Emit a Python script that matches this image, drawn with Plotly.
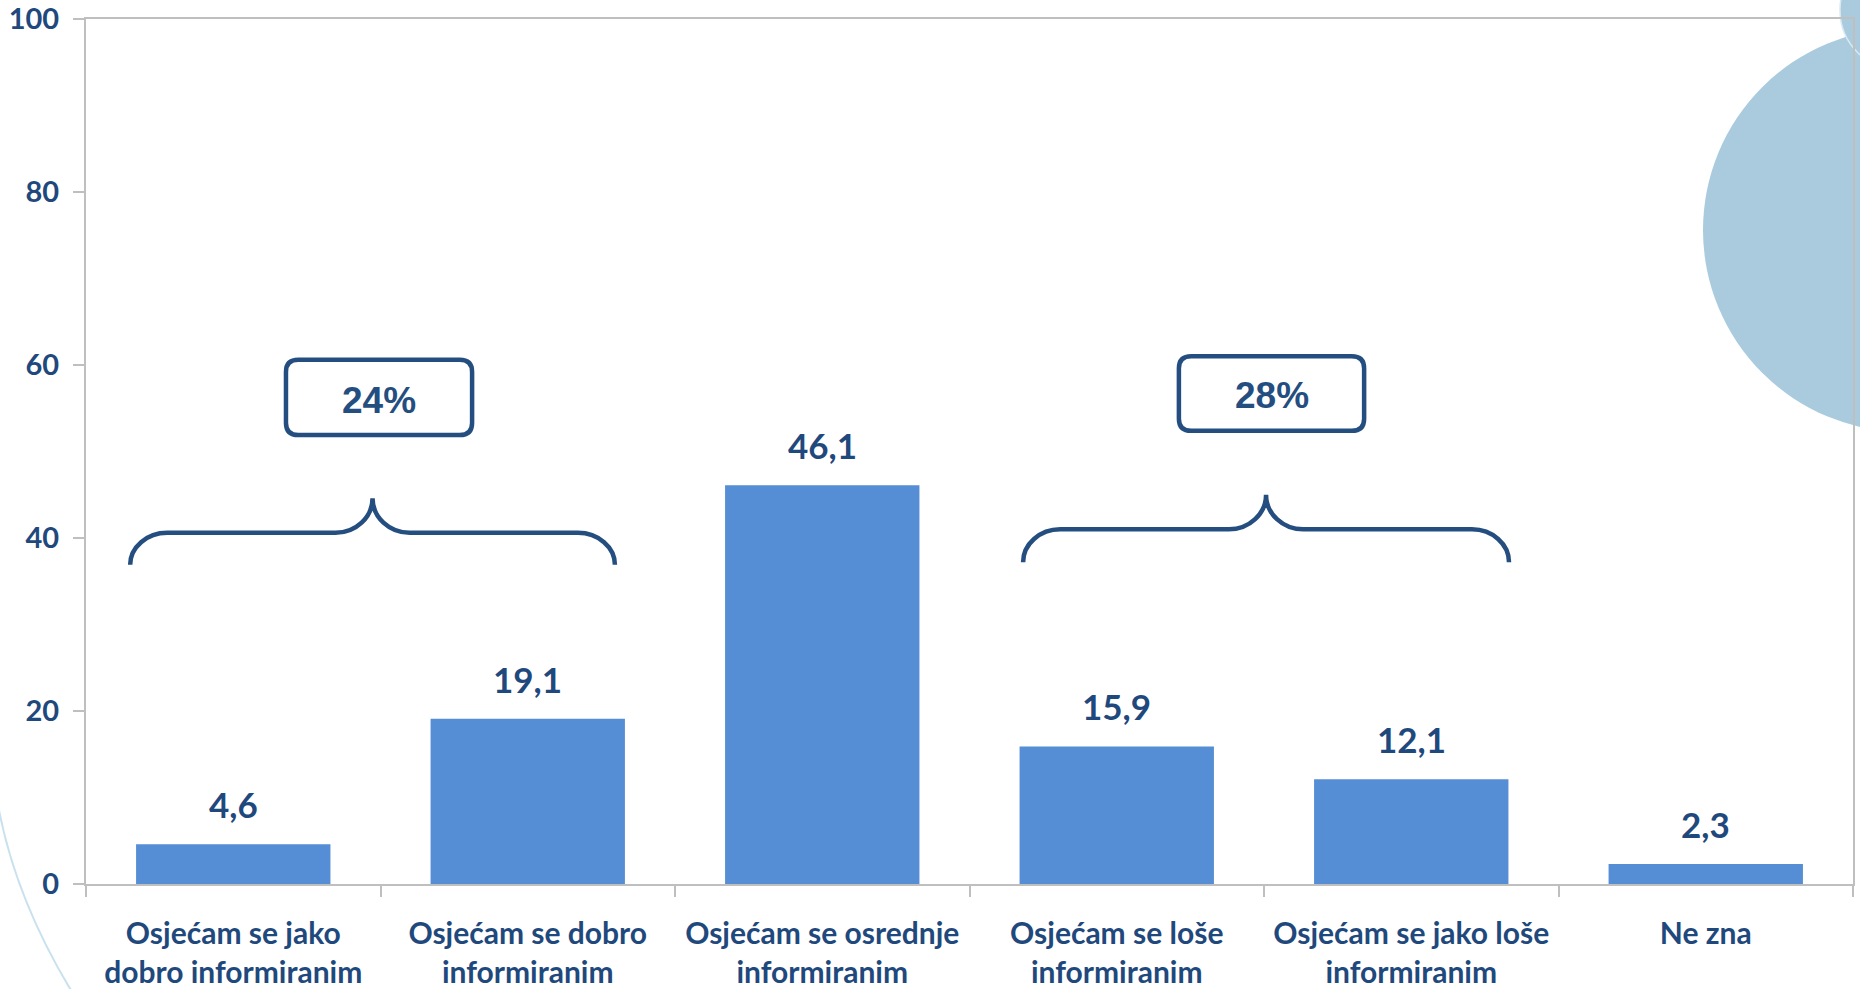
import plotly.graph_objects as go

# ---------------- data ----------------
categories = [
    "Osjećam se jako dobro informiranim",
    "Osjećam se dobro informiranim",
    "Osjećam se osrednje informiranim",
    "Osjećam se loše informiranim",
    "Osjećam se jako loše informiranim",
    "Ne zna",
]
tick_labels = [
    "Osjećam se jako<br>dobro informiranim",
    "Osjećam se dobro<br>informiranim",
    "Osjećam se osrednje<br>informiranim",
    "Osjećam se loše<br>informiranim",
    "Osjećam se jako loše<br>informiranim",
    "Ne zna",
]
values = [4.6, 19.1, 46.1, 15.9, 12.1, 2.3]
y_ticks = [0, 20, 40, 60, 80, 100]
group_labels = ["24%", "28%"]
group_members = [(0, 1), (3, 4)]

# ---------------- style ----------------
W, H = 1860, 989
PL, PR, PT, PB = 86, 1853, 19, 884          # plot area in page pixels
ML, MR, MT, MB = PL, W - PR, PT, H - PB
BAR = "#558ED5"
TXT = "#1F497D"
BRACE = "#254E80"
AXIS = "#BFBFBF"
DECO = "#AACBDE"
FONT = "Lato"


def pp(px, py):
    """page pixel -> paper coordinates"""
    return (px - PL) / (PR - PL), (PB - py) / (PB - PT)


xs = list(range(len(categories)))

fig = go.Figure()
fig.add_trace(go.Bar(
    x=xs, y=values, marker=dict(color=BAR, line=dict(width=0)),
    hovertext=categories, showlegend=False,
))

annotations = []
for x, v in zip(xs, values):
    annotations.append(dict(
        x=x, y=v, xref="x", yref="y", text=f"{v:.1f}".replace(".", ","),
        showarrow=False, yanchor="bottom", yshift=17,
        font=dict(family=FONT, size=35, color=TXT, weight="bold"),
    ))

shapes = []
# decorative circles
x0, y0 = pp(1703, 28)
x1, y1 = pp(2107, 432)
shapes.append(dict(type="circle", xref="paper", yref="paper", x0=x0, x1=x1, y0=y1, y1=y0,
                   fillcolor=DECO, line=dict(width=0), layer="below"))
x0, y0 = pp(1840, -50)
x1, y1 = pp(1960, 70)
shapes.append(dict(type="circle", xref="paper", yref="paper", x0=x0, x1=x1, y0=y1, y1=y0,
                   fillcolor=DECO, line=dict(width=1.5, color="#D8E8F2"), layer="below"))
# left decorative arc
a = pp(-2, 805)
c = pp(15, 898)
b = pp(72, 992)
shapes.append(dict(type="path", xref="paper", yref="paper",
                   path=f"M {a[0]},{a[1]} Q {c[0]},{c[1]} {b[0]},{b[1]}",
                   line=dict(color="#C9E1EE", width=2), layer="below"))

# braces + boxes (data coordinates)
brace_geo = [
    dict(xl=-0.35, xr=1.296, yb=36.9, yh=40.6, yp=44.6,
         box=(0.179, 0.811, 51.9, 60.6), ty=55.9),
    dict(xl=2.682, xr=4.332, yb=37.2, yh=41.0, yp=45.0,
         box=(3.211, 3.840, 52.4, 61.0), ty=56.5),
]
rx = 0.126
for g, lab in zip(brace_geo, group_labels):
    xl, xr, yb, yh, yp = g["xl"], g["xr"], g["yb"], g["yh"], g["yp"]
    xm = (xl + xr) / 2
    k = 0.55
    path = (
        f"M {xl},{yb} "
        f"C {xl},{yb + k*(yh-yb)} {xl + (1-k)*rx},{yh} {xl + rx},{yh} "
        f"L {xm - rx},{yh} "
        f"C {xm - (1-k)*rx},{yh} {xm},{yh + (1-k)*(yp-yh)} {xm},{yp} "
        f"C {xm},{yh + (1-k)*(yp-yh)} {xm + (1-k)*rx},{yh} {xm + rx},{yh} "
        f"L {xr - rx},{yh} "
        f"C {xr - (1-k)*rx},{yh} {xr},{yb + k*(yh-yb)} {xr},{yb}"
    )
    shapes.append(dict(type="path", xref="x", yref="y", path=path,
                       line=dict(color=BRACE, width=4.5)))
    bx0, bx1, by0, by1 = g["box"]
    r_x, r_y = 0.042, 1.4
    rp = (
        f"M {bx0 + r_x},{by1} L {bx1 - r_x},{by1} "
        f"Q {bx1},{by1} {bx1},{by1 - r_y} L {bx1},{by0 + r_y} "
        f"Q {bx1},{by0} {bx1 - r_x},{by0} L {bx0 + r_x},{by0} "
        f"Q {bx0},{by0} {bx0},{by0 + r_y} L {bx0},{by1 - r_y} "
        f"Q {bx0},{by1} {bx0 + r_x},{by1} Z"
    )
    shapes.append(dict(type="path", xref="x", yref="y", path=rp,
                       line=dict(color=BRACE, width=4.5)))
    annotations.append(dict(
        x=(bx0 + bx1) / 2, y=g["ty"], xref="x", yref="y", text=lab, showarrow=False,
        font=dict(family="Liberation Sans", size=37, color=BRACE, weight="bold"),
    ))

fig.update_layout(
    width=W, height=H,
    margin=dict(l=ML, r=MR, t=MT, b=MB, pad=0, autoexpand=False),
    paper_bgcolor="white", plot_bgcolor="rgba(0,0,0,0)",
    bargap=0.34, separators=", ",
    shapes=shapes, annotations=annotations,
    showlegend=False,
    font=dict(family=FONT, color=TXT),
)
fig.update_xaxes(
    range=[-0.5, 5.5], tickmode="array", tickvals=xs, ticktext=tick_labels,
    ticks="", showgrid=False, zeroline=False, automargin=False,
    showline=True, linecolor=AXIS, linewidth=2, mirror=True,
    tickfont=dict(family=FONT, size=30, color=TXT, weight="bold"),
    ticklabelstandoff=22, ticklabeloverflow="allow",
    minor=dict(tickmode="linear", tick0=0.5, dtick=1, ticks="outside",
               ticklen=11, tickwidth=2, tickcolor=AXIS, showgrid=False),
)
fig.update_yaxes(
    range=[0, 100], tickmode="array", tickvals=y_ticks,
    ticks="outside", ticklen=11, tickwidth=2, tickcolor=AXIS,
    showgrid=False, zeroline=False, automargin=False,
    showline=True, linecolor=AXIS, linewidth=2, mirror=True,
    tickfont=dict(family=FONT, size=29, color=TXT, weight="bold"),
    ticklabelstandoff=8, ticklabeloverflow="allow",
)

fig.write_html(
    "out.html",
    config={"displayModeBar": False},
    post_script="document.body.style.margin='0';document.body.style.overflow='hidden';",
)
